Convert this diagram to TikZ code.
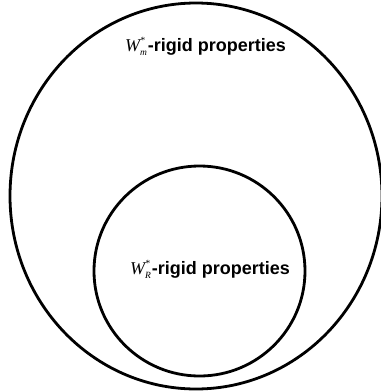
\documentclass[tikz,border=0pt]{standalone}
\usepackage{fontspec}
\setmainfont{Liberation Sans}
\newfontfamily\serifit{Liberation Serif}
\newcommand\wsym[1]{{\serifit\mdseries\itshape W\fontsize{9.5}{10}\selectfont\makebox[0pt][l]{\raisebox{0.75em}{*}}\raisebox{-0.45em}{#1}\hspace{0.8pt}}}
\begin{document}
\begin{tikzpicture}[x=1pt,y=-1pt,
  setline/.style={line width=2.8pt,draw=black},
  setlabel/.style={font=\fontsize{18}{21}\selectfont\bfseries,inner sep=0pt,anchor=base}]
\useasboundingbox (0,0) rectangle (381,392);
\draw[setline] (196,196) ellipse [x radius=186, y radius=193];
\draw[setline] (199.5,271) ellipse [x radius=105.5, y radius=105];
\node[setlabel] (outer) at (205.5,51) {\wsym{m}-rigid properties};
\node[setlabel] (inner) at (210,274) {\wsym{R}-rigid properties};
\end{tikzpicture}
\end{document}
